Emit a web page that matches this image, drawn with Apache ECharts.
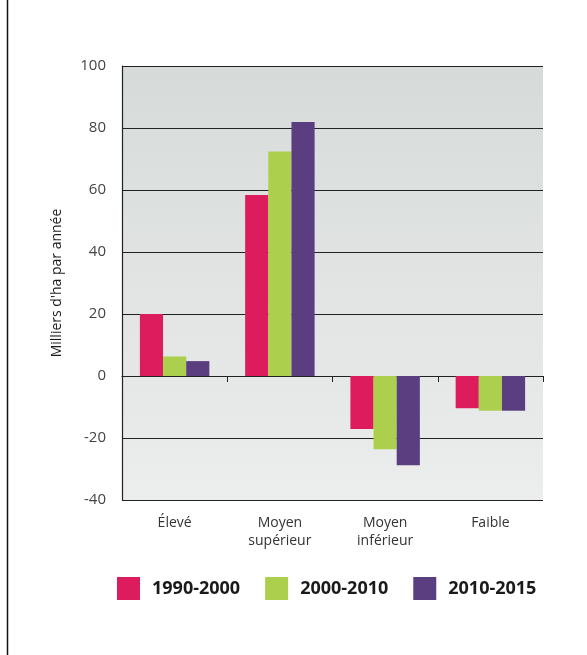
<!DOCTYPE html>
<html>
<head>
<meta charset="utf-8">
<script src="https://cdn.jsdelivr.net/npm/echarts@6/dist/echarts.min.js"></script>
<style>
  html, body { margin: 0; padding: 0; background: #fff; }
  #chart { width: 587px; height: 655px; }
</style>
</head>
<body>
<div id="chart"></div>
<script>
// Revenue groups along the horizontal axis
const categories = ['Élevé', 'Moyen\nsupérieur', 'Moyen\ninférieur', 'Faible'];
// Yearly net change, thousands of ha per year, for each period
const period1990_2000 = [20.0, 58.4, -17.1, -10.4];
const period2000_2010 = [6.3, 72.4, -23.6, -11.2];
const period2010_2015 = [4.8, 81.9, -28.8, -11.2];
const periodNames = ['1990-2000', '2000-2010', '2010-2015'];
const periodColors = ['#dc1c5c', '#acd04e', '#5b3e80'];

const chart = echarts.init(document.getElementById('chart'));
const seriesData = [period1990_2000, period2000_2010, period2010_2015];

chart.setOption({
  animation: false,
  backgroundColor: '#ffffff',
  textStyle: { fontFamily: 'Open Sans' },
  grid: {
    left: 122, right: 44, top: 66, bottom: 155,
    outerBoundsMode: 'none',
    containLabel: false,
    show: true,
    borderWidth: 0,
    backgroundColor: new echarts.graphic.LinearGradient(0, 0, 0, 1, [
      { offset: 0, color: '#d6dbd9' },
      { offset: 1, color: '#eceded' }
    ])
  },
  legend: {
    top: 577,
    left: 117,
    padding: 0,
    itemWidth: 23, itemHeight: 23, itemGap: 25,
    icon: 'rect',
    textStyle: { fontSize: 18, fontWeight: 'bold', color: '#1a1a1a', fontFamily: 'Open Sans', padding: [0, 0, 0, 7] },
    data: periodNames
  },
  xAxis: {
    type: 'category',
    data: categories,
    axisLine: { onZero: true, lineStyle: { color: '#222', width: 1.2 } },
    axisTick: { show: true, alignWithLabel: false, length: 6, inside: false, lineStyle: { color: '#222' } },
    axisLabel: {
      color: '#333', fontSize: 14, lineHeight: 18, margin: 14,
      fontFamily: 'Open Sans'
    },
    splitLine: { show: false }
  },
  yAxis: {
    type: 'value',
    min: -40, max: 100, interval: 20,
    name: "Milliers d'ha par année",
    nameLocation: 'middle',
    nameGap: 58,
    nameTextStyle: { fontSize: 14, color: '#1a1a1a', fontFamily: 'Open Sans' },
    axisLine: { show: true, lineStyle: { color: '#222', width: 1.2 } },
    axisTick: { show: false },
    axisLabel: { fontSize: 15, color: '#444', margin: 16, fontFamily: 'Open Sans' },
    splitLine: { show: true, lineStyle: { color: '#222', width: 1.2 } }
  },
  series: periodNames.map((name, i) => ({
    name: name,
    type: 'bar',
    data: seriesData[i],
    barGap: '0%',
    barCategoryGap: '34%',
    itemStyle: { color: periodColors[i] }
  })),
  graphic: [
    {
      type: 'line',
      shape: { x1: 7.5, y1: 0, x2: 7.5, y2: 655 },
      style: { stroke: '#111', lineWidth: 1.5 }
    }
  ]
});
</script>
</body>
</html>
